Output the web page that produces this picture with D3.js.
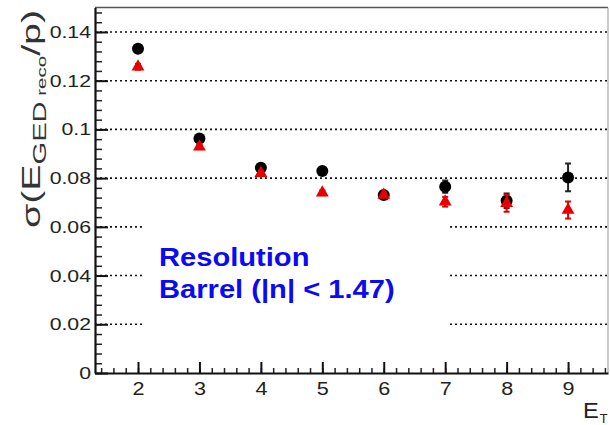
<!DOCTYPE html>
<html>
<head>
<meta charset="utf-8">
<style>
  body { margin: 0; background: #fff; }
  svg { display: block; font-family: "Liberation Sans", Arial, sans-serif; }
</style>
</head>
<body>
<svg id="chart" width="610" height="425"></svg>
<script src="https://d3js.org/d3.v7.min.js"></script>
<script>
  // E_T bins
  var etValues = [2, 3, 4, 5, 6, 7, 8, 9]
  // black circles and their errors
  var blackValues = [0.1331, 0.0963, 0.0843, 0.0829, 0.0731, 0.0765, 0.0707, 0.0803]
  var blackErrors = [0.0012, 0.0010, 0.0010, 0.0010, 0.0010, 0.0025, 0.0030, 0.0057]
  // red triangles and their errors
  var redValues = [0.1257, 0.0929, 0.0820, 0.0740, 0.0731, 0.0703, 0.0697, 0.0669]
  var redErrors = [0.0012, 0.0010, 0.0010, 0.0010, 0.0010, 0.0020, 0.0035, 0.0035]
  var yTicks = [0, 0.02, 0.04, 0.06, 0.08, 0.1, 0.12, 0.14]
  var yTickLabels = ["0", "0.02", "0.04", "0.06", "0.08", "0.1", "0.12", "0.14"]
  var xTicks = [2, 3, 4, 5, 6, 7, 8, 9]
  var labelLines = ["Resolution", "Barrel (|n| < 1.47)"]

  var svg = d3.select("#chart")
  var x = d3.scaleLinear().domain([1.3, 9.65]).range([95, 608])
  var y = d3.scaleLinear().domain([0, 0.15]).range([373, 7.6])

  // stretch text horizontally like the reference
  function stretch(sel, f) {
    sel.each(function() {
      var w = this.getComputedTextLength()
      d3.select(this).attr("textLength", w * f).attr("lengthAdjust", "spacingAndGlyphs")
    })
  }

  // frame top/right
  svg.append("line").attr("x1", x(1.3)).attr("x2", x(9.65)).attr("y1", y(0.15)).attr("y2", y(0.15))
    .attr("stroke", "#555").attr("stroke-width", 1.5)
  svg.append("line").attr("x1", x(9.65)).attr("x2", x(9.65)).attr("y1", y(0.15)).attr("y2", y(0))
    .attr("stroke", "#999").attr("stroke-width", 1)

  // dotted gridlines
  svg.append("g").selectAll("line")
    .data(yTicks.filter(function(d) { return d > 0 }))
    .enter().append("line")
    .attr("x1", x(1.3)).attr("x2", x(9.65))
    .attr("y1", function(d) { return y(d) }).attr("y2", function(d) { return y(d) })
    .attr("stroke", "#111").attr("stroke-width", 1.6).attr("stroke-dasharray", "2,3")

  // white label box hiding part of the grid
  svg.append("rect")
    .attr("x", x(2.07)).attr("y", y(0.066))
    .attr("width", x(7.05) - x(2.07)).attr("height", y(0.015) - y(0.066))
    .attr("fill", "#fff")

  // minor ticks
  var minorY = d3.range(0, 0.1501, 0.004)
  svg.append("g").attr("transform", "translate(" + x(1.3) + ",0)")
    .call(d3.axisLeft(y).tickValues(minorY).tickSize(-7).tickFormat("").tickSizeOuter(0))
    .call(function(g) { g.select(".domain").remove() })
    .selectAll("line").attr("stroke", "#222").attr("stroke-width", 1.5)
  var minorX = d3.range(1.4, 9.61, 0.2)
  svg.append("g").attr("transform", "translate(0," + y(0) + ")")
    .call(d3.axisBottom(x).tickValues(minorX).tickSize(-5).tickFormat("").tickSizeOuter(0))
    .call(function(g) { g.select(".domain").remove() })
    .selectAll("line").attr("stroke", "#222").attr("stroke-width", 1.5)

  // y axis
  var yAxis = svg.append("g").attr("transform", "translate(" + x(1.3) + ",0)")
    .call(d3.axisLeft(y).tickValues(yTicks).tickSize(-13).tickSizeOuter(0).tickPadding(4)
      .tickFormat(function(d, i) { return yTickLabels[i] }))
  yAxis.select(".domain").attr("stroke", "#111").attr("stroke-width", 2.2)
  yAxis.selectAll(".tick line").attr("stroke", "#111").attr("stroke-width", 2)
  yAxis.selectAll("text").attr("font-size", 17).attr("fill", "#222")
    .attr("font-family", "Liberation Sans, Arial, sans-serif")
  stretch(yAxis.selectAll("text"), 1.25)

  // x axis
  var xAxis = svg.append("g").attr("transform", "translate(0," + y(0) + ")")
    .call(d3.axisBottom(x).tickValues(xTicks).tickSize(-11).tickSizeOuter(0).tickPadding(9)
      .tickFormat(d3.format("d")))
  xAxis.select(".domain").attr("stroke", "#111").attr("stroke-width", 2.2)
  xAxis.selectAll(".tick line").attr("stroke", "#111").attr("stroke-width", 2)
  xAxis.selectAll("text").attr("font-size", 18).attr("fill", "#222")
    .attr("font-family", "Liberation Sans, Arial, sans-serif")
  stretch(xAxis.selectAll("text"), 1.2)

  // error bars + markers
  function errBars(vals, errs, color) {
    var g = svg.append("g").attr("stroke", color).attr("stroke-width", 2)
    vals.forEach(function(v, i) {
      var cx = x(etValues[i])
      g.append("line").attr("x1", cx).attr("x2", cx).attr("y1", y(v - errs[i])).attr("y2", y(v + errs[i]))
      g.append("line").attr("x1", cx - 3).attr("x2", cx + 3).attr("y1", y(v - errs[i])).attr("y2", y(v - errs[i]))
      g.append("line").attr("x1", cx - 3).attr("x2", cx + 3).attr("y1", y(v + errs[i])).attr("y2", y(v + errs[i]))
    })
  }
  errBars(blackValues, blackErrors, "#222")
  svg.append("g").selectAll("circle")
    .data(blackValues).enter().append("circle")
    .attr("cx", function(d, i) { return x(etValues[i]) })
    .attr("cy", function(d) { return y(d) })
    .attr("r", 6).attr("fill", "#000")
  errBars(redValues, redErrors, "#e00000")
  var tri = d3.symbol().type(d3.symbolTriangle).size(72)
  svg.append("g").selectAll("path")
    .data(redValues).enter().append("path")
    .attr("d", tri)
    .attr("transform", function(d, i) { return "translate(" + x(etValues[i]) + "," + y(d) + ")" })
    .attr("fill", "#e80000")

  // label text
  var lab = svg.append("g")
  labelLines.forEach(function(t, i) {
    lab.append("text").attr("x", 159).attr("y", 266 + i * 32)
      .attr("font-size", 26).attr("font-weight", "bold").attr("fill", "#0a0af5").text(t)
  })
  stretch(lab.selectAll("text"), 1.12)

  // y axis title
  var yt = svg.append("text")
    .attr("transform", "translate(40,228) rotate(-90) scale(1,1.1)")
    .attr("font-size", 23).attr("fill", "#333")
  yt.append("tspan").text("σ(E")
  yt.append("tspan").attr("font-size", 17).attr("dy", 5).text("GED")
  yt.append("tspan").attr("font-size", 12).text(" reco")
  yt.append("tspan").attr("dy", -5).text("/p)")
  yt.attr("textLength", 218).attr("lengthAdjust", "spacingAndGlyphs")

  // x axis title
  var xt = svg.append("text").attr("x", 583).attr("y", 418)
    .attr("font-size", 22).attr("fill", "#222")
  xt.append("tspan").text("E")
  xt.append("tspan").attr("font-size", 12).attr("dy", 5).attr("dx", 1).text("T")
  stretch(xt, 1.12)
</script>
</body>
</html>
